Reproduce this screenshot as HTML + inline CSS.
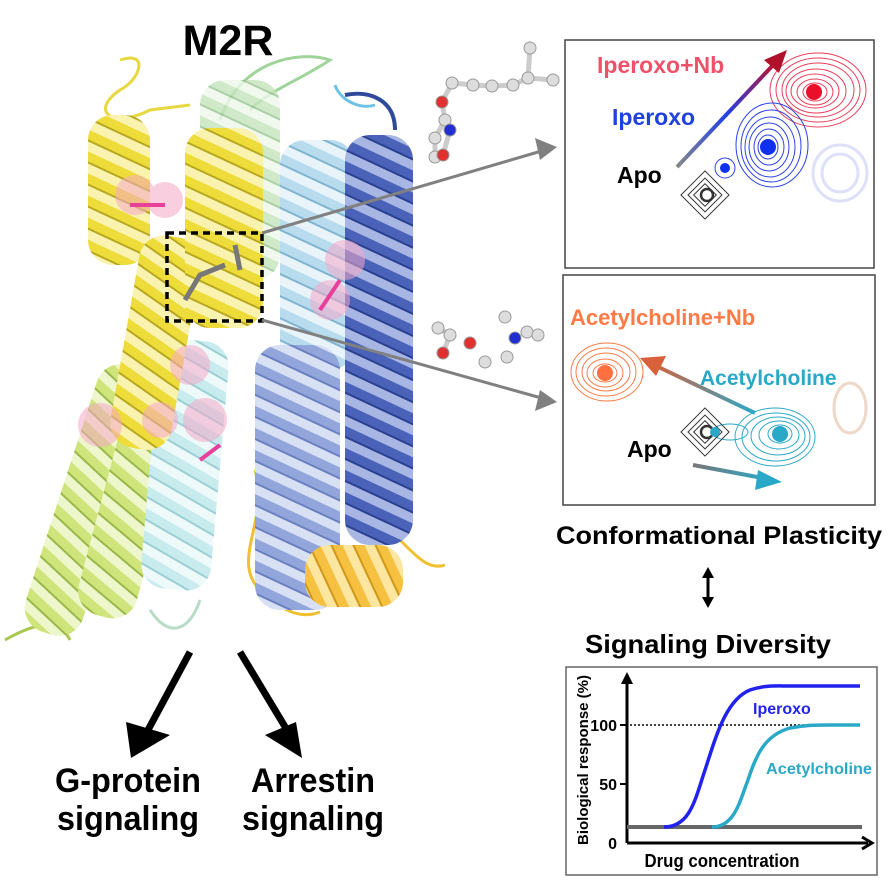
<!DOCTYPE html>
<html><head><meta charset="utf-8"><style>
html,body{margin:0;padding:0;background:#fff;}
svg{display:block;font-family:"Liberation Sans",Arial,sans-serif;}
</style></head><body>
<svg width="890" height="887" viewBox="0 0 890 887" xmlns="http://www.w3.org/2000/svg">
<defs>
<pattern id="pY" width="20" height="20" patternUnits="userSpaceOnUse" patternTransform="rotate(25)"><rect width="20" height="20" fill="#faf3b0"/><rect width="20" height="11" fill="#eedc3a"/><rect y="9" width="20" height="2" fill="#b8a820"/></pattern>
<pattern id="pG" width="20" height="20" patternUnits="userSpaceOnUse" patternTransform="rotate(25)"><rect width="20" height="20" fill="#eef6cc"/><rect width="20" height="11" fill="#cfe47a"/><rect y="9" width="20" height="2" fill="#9ab84a"/></pattern>
<pattern id="pLG" width="20" height="20" patternUnits="userSpaceOnUse" patternTransform="rotate(25)"><rect width="20" height="20" fill="#eef8ea"/><rect width="20" height="11" fill="#c4e4bc"/><rect y="9" width="20" height="2" fill="#97c490"/></pattern>
<pattern id="pC" width="20" height="20" patternUnits="userSpaceOnUse" patternTransform="rotate(25)"><rect width="20" height="20" fill="#eef9fa"/><rect width="20" height="11" fill="#c8ebee"/><rect y="9" width="20" height="2" fill="#9ccfd4"/></pattern>
<pattern id="pLB" width="20" height="20" patternUnits="userSpaceOnUse" patternTransform="rotate(25)"><rect width="20" height="20" fill="#e8f4fa"/><rect width="20" height="11" fill="#b8dcee"/><rect y="9" width="20" height="2" fill="#80b4d0"/></pattern>
<pattern id="pB" width="20" height="20" patternUnits="userSpaceOnUse" patternTransform="rotate(25)"><rect width="20" height="20" fill="#d8e0f4"/><rect width="20" height="11" fill="#93a6dc"/><rect y="9" width="20" height="2" fill="#6a80c0"/></pattern>
<pattern id="pN" width="20" height="20" patternUnits="userSpaceOnUse" patternTransform="rotate(25)"><rect width="20" height="20" fill="#a8b6e4"/><rect width="20" height="11" fill="#4a62b8"/><rect y="9" width="20" height="2" fill="#2a4090"/></pattern>
<pattern id="pO" width="20" height="20" patternUnits="userSpaceOnUse" patternTransform="rotate(65)"><rect width="20" height="20" fill="#fde6a0"/><rect width="20" height="11" fill="#f6c040"/><rect y="9" width="20" height="2" fill="#d09818"/></pattern>
<linearGradient id="g1" x1="0" y1="1" x2="1" y2="0"><stop offset="0" stop-color="#888"/><stop offset="0.5" stop-color="#2040e8"/><stop offset="1" stop-color="#c0102a"/></linearGradient>
<linearGradient id="g2" x1="1" y1="0" x2="0" y2="0"><stop offset="0" stop-color="#2aa8c8"/><stop offset="1" stop-color="#d8603a"/></linearGradient>
<linearGradient id="g3" x1="0" y1="0" x2="1" y2="0"><stop offset="0" stop-color="#777"/><stop offset="1" stop-color="#2aa8c8"/></linearGradient>
</defs>

<g fill="none" stroke-width="3">
<path d="M220,120 C240,60 300,50 330,60 C300,80 270,90 250,110" stroke="#9fd49a"/>
<path d="M120,60 C150,50 140,80 120,90 C90,110 110,130 150,110 L190,105" stroke="#e8d840"/>
<path d="M345,95 C370,90 395,100 395,130" stroke="#2f4a9a" stroke-width="4"/>
<path d="M335,85 C340,100 360,110 375,105" stroke="#6ec2e4"/>
<path d="M255,470 C270,520 230,560 260,590 C280,610 300,620 320,612" stroke="#f0c030"/>
<path d="M400,540 C420,560 430,570 445,565" stroke="#f0c030"/>
<path d="M5,640 C40,620 60,620 70,640" stroke="#a9c64e"/>
<path d="M150,610 C170,640 190,630 200,600" stroke="#b8dcc8"/>
</g>
<g>
<rect x="60" y="360" width="60" height="280" rx="25" fill="url(#pG)" transform="rotate(18 90 500)"/>
<rect x="100" y="400" width="60" height="220" rx="25" fill="url(#pG)" transform="rotate(15 130 510)"/>
<rect x="150" y="340" width="70" height="250" rx="25" fill="url(#pC)" transform="rotate(5 185 465)"/>
<rect x="200" y="80" width="80" height="200" rx="25" fill="url(#pLG)" opacity="0.8"/>
<rect x="280" y="140" width="75" height="230" rx="25" fill="url(#pLB)"/>
<rect x="255" y="345" width="85" height="265" rx="25" fill="url(#pB)"/>
<rect x="345" y="135" width="68" height="410" rx="25" fill="url(#pN)"/>
<rect x="88" y="115" width="62" height="150" rx="25" fill="url(#pY)"/>
<rect x="125" y="235" width="62" height="215" rx="25" fill="url(#pY)" transform="rotate(10 155 340)"/>
<rect x="185" y="128" width="78" height="200" rx="25" fill="url(#pY)"/>
<rect x="305" y="545" width="98" height="62" rx="25" fill="url(#pO)"/>
</g>
<g fill="#f5a8c8" opacity="0.55">
<circle cx="135" cy="195" r="20"/><circle cx="165" cy="200" r="18"/><circle cx="345" cy="260" r="20"/><circle cx="330" cy="300" r="20"/><circle cx="190" cy="365" r="20"/><circle cx="205" cy="420" r="22"/><circle cx="100" cy="425" r="22"/><circle cx="160" cy="420" r="18"/>
</g>
<g stroke="#e8409a" stroke-width="4" fill="none"><path d="M130,205 L165,205"/><path d="M320,310 L340,280"/><path d="M200,460 L220,445"/></g>
<path d="M185,300 L200,275 L225,265 M235,245 L240,270" stroke="#777" stroke-width="5" fill="none"/>

<rect x="167" y="233" width="95" height="88" fill="none" stroke="#000" stroke-width="3.5" stroke-dasharray="7,5"/>
<g stroke="#808080" stroke-width="3" fill="#808080">
<line x1="262" y1="233" x2="545" y2="150"/><polygon points="557,147 535,138 540,160" stroke="none"/>
<line x1="262" y1="320" x2="545" y2="399"/><polygon points="557,402 540,390 535,411" stroke="none"/>
</g>
<text x="228" y="55" font-size="43" font-weight="bold" text-anchor="middle">M2R</text>

<g stroke="#ccc" stroke-width="5"><polyline points="530,48 528,78 553,80 M528,78" fill="none"/><polyline points="528,78 513,85 492,86 473,85 452,83 442,102 445,120 450,130 443,155 435,157 435,138 445,120" fill="none"/>
<polyline points="438,328 450,335 443,353 M450,335 470,343 485,362 507,357 515,338 505,317 M515,338 527,332 538,335" fill="none"/></g>
<g fill="#ddd" stroke="#999" stroke-width="1">
<circle cx="530" cy="48" r="6"/><circle cx="528" cy="78" r="6"/><circle cx="553" cy="80" r="6"/><circle cx="513" cy="85" r="6"/><circle cx="492" cy="86" r="6"/><circle cx="473" cy="85" r="6"/><circle cx="452" cy="83" r="6"/><circle cx="445" cy="120" r="6"/><circle cx="435" cy="157" r="6"/><circle cx="435" cy="138" r="6"/>
<circle cx="442" cy="102" r="6" fill="#e03030"/><circle cx="450" cy="130" r="6" fill="#2030d0"/><circle cx="443" cy="155" r="6" fill="#e03030"/>
<circle cx="438" cy="328" r="6"/><circle cx="450" cy="335" r="6"/><circle cx="443" cy="353" r="6" fill="#e03030"/><circle cx="470" cy="343" r="6" fill="#e03030"/><circle cx="485" cy="362" r="6"/><circle cx="507" cy="357" r="6"/><circle cx="515" cy="338" r="6" fill="#2030d0"/><circle cx="505" cy="317" r="6"/><circle cx="527" cy="332" r="6"/><circle cx="538" cy="335" r="6"/>
</g>

<rect x="565" y="40" width="309" height="228" fill="#fff" stroke="#444" stroke-width="1.5"/>
<g fill="none" stroke-width="1">
<g stroke="#e8405a"><ellipse cx="818" cy="90" rx="48" ry="37"/><ellipse cx="818" cy="90" rx="42" ry="32"/><ellipse cx="818" cy="90" rx="36" ry="27"/><ellipse cx="816" cy="91" rx="30" ry="22"/><ellipse cx="815" cy="91" rx="24" ry="17"/><ellipse cx="815" cy="92" rx="18" ry="13"/><ellipse cx="815" cy="92" rx="12" ry="9"/></g>
<g stroke="#2a40e8"><ellipse cx="772" cy="145" rx="36" ry="42"/><ellipse cx="771" cy="146" rx="30" ry="36"/><ellipse cx="770" cy="147" rx="25" ry="30"/><ellipse cx="769" cy="147" rx="20" ry="24"/><ellipse cx="769" cy="147" rx="15" ry="18"/><ellipse cx="768" cy="147" rx="10" ry="12"/></g>
<g stroke="#dde0f8" stroke-width="3"><ellipse cx="840" cy="173" rx="27" ry="28"/><ellipse cx="840" cy="173" rx="18" ry="19"/></g>
<g stroke="#333"><rect x="688" y="178" width="34" height="34" transform="rotate(45 705 195)"/><rect x="693" y="183" width="24" height="24" transform="rotate(45 705 195)"/><rect x="697" y="187" width="16" height="16" transform="rotate(45 705 195)"/><circle cx="707" cy="195" r="6" stroke-width="2.5"/></g>
<g stroke="#2a40e8"><circle cx="725" cy="168" r="10"/></g>
</g>
<circle cx="814" cy="92" r="8" fill="#e8102a"/><circle cx="768" cy="147" r="8" fill="#1030f0"/><circle cx="725" cy="168" r="5" fill="#1030f0"/>
<line x1="677" y1="167" x2="776" y2="62" stroke="url(#g1)" stroke-width="4"/>
<polygon points="787,50 764,60 779,73" fill="#b0102a"/>
<text x="597" y="73" font-size="23" font-weight="bold" fill="#f0506a">Iperoxo+Nb</text>
<text x="612" y="125" font-size="23" font-weight="bold" fill="#2040e0">Iperoxo</text>
<text x="617" y="183" font-size="23" font-weight="bold">Apo</text>

<rect x="563" y="275" width="312" height="230" fill="#fff" stroke="#444" stroke-width="1.5"/>
<g fill="none" stroke-width="1">
<g stroke="#ff7a45"><ellipse cx="607" cy="372" rx="36" ry="29"/><ellipse cx="606" cy="372" rx="30" ry="24"/><ellipse cx="606" cy="372" rx="24" ry="19"/><ellipse cx="605" cy="373" rx="18" ry="14"/><ellipse cx="605" cy="373" rx="12" ry="9"/></g>
<g stroke="#2aa8c8"><ellipse cx="775" cy="437" rx="40" ry="29"/><ellipse cx="776" cy="437" rx="34" ry="24"/><ellipse cx="778" cy="436" rx="27" ry="19"/><ellipse cx="779" cy="435" rx="20" ry="14"/><ellipse cx="780" cy="434" rx="12" ry="9"/><ellipse cx="730" cy="432" rx="18" ry="8"/></g>
<g stroke="#f0d8c8" stroke-width="3"><ellipse cx="850" cy="408" rx="16" ry="25"/></g>
<g stroke="#333"><rect x="688" y="415" width="34" height="34" transform="rotate(45 705 432)"/><rect x="693" y="420" width="24" height="24" transform="rotate(45 705 432)"/><rect x="697" y="424" width="16" height="16" transform="rotate(45 705 432)"/><circle cx="707" cy="432" r="6" stroke-width="2.5"/></g>
</g>
<circle cx="605" cy="373" r="8" fill="#ff7040"/><circle cx="780" cy="434" r="8" fill="#2aa8c8"/><circle cx="715" cy="432" r="5" fill="#2aa8c8"/>
<line x1="755" y1="413" x2="650" y2="363" stroke="url(#g2)" stroke-width="4"/>
<polygon points="640,358 666,356 656,376" fill="#d8603a"/>
<line x1="693" y1="465" x2="768" y2="479" stroke="url(#g3)" stroke-width="4"/>
<polygon points="782,482 758,470 755,490" fill="#2aa8c8"/>
<text x="570" y="325" font-size="22" font-weight="bold" fill="#ff7a45">Acetylcholine+Nb</text>
<text x="700" y="385" font-size="21" font-weight="bold" fill="#2aa8c8">Acetylcholine</text>
<text x="627" y="457" font-size="23" font-weight="bold">Apo</text>

<text x="556" y="544" font-size="25" font-weight="bold" textLength="326" lengthAdjust="spacingAndGlyphs">Conformational Plasticity</text>
<line x1="708" y1="576" x2="708" y2="599" stroke="#000" stroke-width="3"/>
<polygon points="708,567 702,578 714,578" fill="#000"/><polygon points="708,608 702,597 714,597" fill="#000"/>
<text x="585" y="653" font-size="26" font-weight="bold" textLength="246" lengthAdjust="spacingAndGlyphs">Signaling Diversity</text>

<rect x="566" y="667" width="311" height="208" fill="#fff" stroke="#666" stroke-width="1.5"/>
<line x1="627" y1="843" x2="627" y2="680" stroke="#000" stroke-width="3"/>
<polygon points="627,672 621,684 633,684" fill="#000"/>
<line x1="627" y1="843" x2="868" y2="843" stroke="#000" stroke-width="3"/>
<polyline points="862,837 872,843 862,849" fill="none" stroke="#000" stroke-width="3"/>
<line x1="620" y1="725" x2="627" y2="725" stroke="#000" stroke-width="2"/>
<line x1="620" y1="784" x2="627" y2="784" stroke="#000" stroke-width="2"/>
<line x1="630" y1="725" x2="860" y2="725" stroke="#000" stroke-width="1.5" stroke-dasharray="2,2"/>
<line x1="627" y1="827" x2="862" y2="827" stroke="#666" stroke-width="4"/>
<path d="M664,827 C690,827 695,800 705,770 C715,740 725,700 750,690 C765,685 775,686 790,686 L860,686" fill="none" stroke="#2222ee" stroke-width="3.5"/>
<path d="M712,827 C735,827 740,800 748,780 C756,755 765,735 790,728 C805,725 815,725 830,725 L860,725" fill="none" stroke="#2aa8c8" stroke-width="3.5"/>
<text x="617" y="731" font-size="16" font-weight="bold" text-anchor="end">100</text>
<text x="617" y="790" font-size="16" font-weight="bold" text-anchor="end">50</text>
<text x="617" y="849" font-size="16" font-weight="bold" text-anchor="end">0</text>
<text x="753" y="714" font-size="16" font-weight="bold" fill="#2222ee">Iperoxo</text>
<text x="766" y="774" font-size="16" font-weight="bold" fill="#2aa8c8" textLength="106" lengthAdjust="spacingAndGlyphs">Acetylcholine</text>
<text x="722" y="867" font-size="18" font-weight="bold" text-anchor="middle" textLength="155" lengthAdjust="spacingAndGlyphs">Drug concentration</text>
<text transform="translate(588,760) rotate(-90)" font-size="15" font-weight="bold" text-anchor="middle" textLength="170" lengthAdjust="spacingAndGlyphs">Biological response (%)</text>

<line x1="190" y1="652" x2="148" y2="730" stroke="#000" stroke-width="7"/>
<polygon points="131,758 126,722 170,735" fill="#000"/>
<line x1="240" y1="652" x2="287" y2="730" stroke="#000" stroke-width="7"/>
<polygon points="302,758 265,735 296,722" fill="#000"/>
<g font-size="34" font-weight="bold" text-anchor="middle">
<text x="128" y="792" textLength="146" lengthAdjust="spacingAndGlyphs">G-protein</text>
<text x="128" y="830" textLength="142" lengthAdjust="spacingAndGlyphs">signaling</text>
<text x="313" y="792" textLength="124" lengthAdjust="spacingAndGlyphs">Arrestin</text>
<text x="313" y="830" textLength="142" lengthAdjust="spacingAndGlyphs">signaling</text>
</g>
</svg>
</body></html>
